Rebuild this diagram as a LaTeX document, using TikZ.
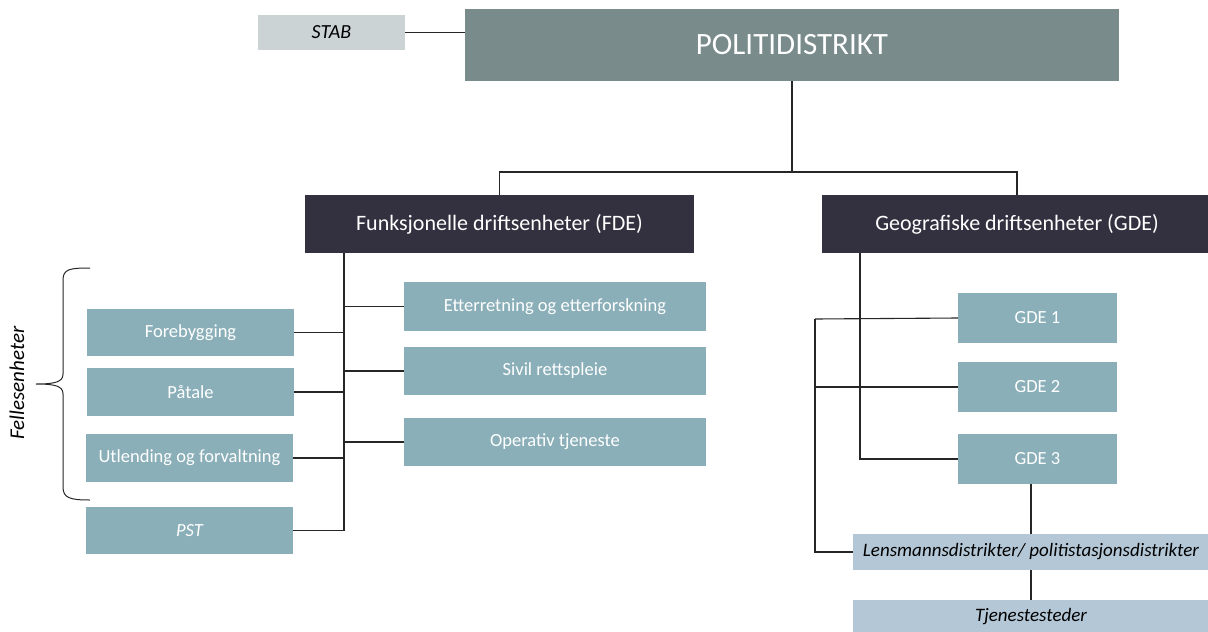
\documentclass[tikz,border=0pt]{standalone}
\usepackage{fontspec}
\setmainfont{Carlito}
\definecolor{topgray}{HTML}{7A8B8C}
\definecolor{stabgray}{HTML}{CBD3D5}
\definecolor{darkunit}{HTML}{33313F}
\definecolor{tealunit}{HTML}{8AAFB8}
\definecolor{localunit}{HTML}{B4C7D6}

\begin{document}
\begin{tikzpicture}[x=1pt,y=-1pt,
    box/.style={anchor=north west,inner sep=0pt,outer sep=0pt},
    topbox/.style={box,fill=topgray,text=white,font=\fontsize{31}{36}\selectfont},
    headbox/.style={box,fill=darkunit,text=white,font=\fontsize{22}{26}\selectfont},
    unit/.style={box,fill=tealunit,text=white,font=\fontsize{18.5}{22}\selectfont},
    localbox/.style={box,fill=localunit,text=black,font=\fontsize{19}{22}\selectfont\itshape},
    link/.style={draw=black!85,line width=1.1pt}]
    \useasboundingbox (0,0) rectangle (1208,632);

    % top
    \node[box,fill=stabgray,font=\fontsize{20}{24}\selectfont\itshape,
        minimum width=147pt,minimum height=35pt] (stab) at (258,15) {STAB};
    \node[topbox,minimum width=654pt,minimum height=72pt] (pd) at (465,9) {POLITIDISTRIKT};
    \draw[link] (stab.east) -- (stab.east -| pd.west);

    \node[headbox,minimum width=389pt,minimum height=58pt] (fde) at (305,195) {Funksjonelle driftsenheter (FDE)};
    \node[headbox,minimum width=390pt,minimum height=58pt] (gde) at (822,195) {Geografiske driftsenheter (GDE)};
    \coordinate (split) at (792,172);
    \draw[link] (pd.south) -- (split);
    \draw[link] (fde.north) |- (split) -| (gde.north);

    % functional units
    \foreach \name/\x/\y/\h/\txt in {fore/87/309/47/Forebygging,
        paatale/87/368/48/Påtale,
        utl/86/434/48/Utlending og forvaltning,
        pst/86/507/47/{\itshape PST}}{
        \node[unit,minimum width=207pt,minimum height=\h pt] (\name) at (\x,\y) {\txt};
    }
    \foreach \name/\y/\h/\txt in {etter/282/49/Etterretning og etterforskning,
        sivil/347/48/Sivil rettspleie,
        oper/418/48/Operativ tjeneste}{
        \node[unit,minimum width=302pt,minimum height=\h pt] (\name) at (404,\y) {\txt};
    }
    \coordinate (fspine) at ([xshift=39pt]fde.south west);
    \draw[link] (fspine) |- (pst.east);
    \foreach \name in {fore,paatale,utl}{
        \draw[link] (\name.east) -- (\name.east -| fspine);
    }
    \foreach \name in {etter,sivil,oper}{
        \draw[link] (fspine |- \name.west) -- (\name.west);
    }

    % brace
    \draw[black!85,line width=1pt] (90,268) .. controls (70,268) and (63,269) .. (63,280)
        -- (63,374) .. controls (63,382) and (55,384) .. (36,384)
        .. controls (55,384) and (63,386) .. (63,394)
        -- (63,487) .. controls (63,498) and (70,500) .. (90,500);
    \node[rotate=90,font=\fontsize{21}{25}\selectfont\itshape] (felles) at (17,383) {Fellesenheter};

    % geographical units
    \foreach \i/\y in {1/293,2/362,3/434}{
        \node[unit,minimum width=159pt,minimum height=50pt] (gde\i) at (958,\y) {GDE \i};
    }
    \node[localbox,minimum width=356pt,minimum height=36pt] (lens) at (853,534) {Lensmannsdistrikter/ politistasjonsdistrikter};
    \node[localbox,minimum width=356pt,minimum height=34pt] (tjen) at (853,600) {Tjenestesteder};
    \coordinate (gspine) at ([xshift=38pt]gde.south west);
    \coordinate (lspine) at (815,319);
    \draw[link] (gspine) |- (gde3.west);
    \draw[link] (lspine) -- (gde1.west);
    \draw[link] (gde2.west -| lspine) -- (gde2.west);
    \draw[link] (lspine) |- (lens.west);
    \draw[link] (lens.north) -- (lens.north |- gde3.south);
    \draw[link] (lens.south) -- (tjen.north);
\end{tikzpicture}
\end{document}
